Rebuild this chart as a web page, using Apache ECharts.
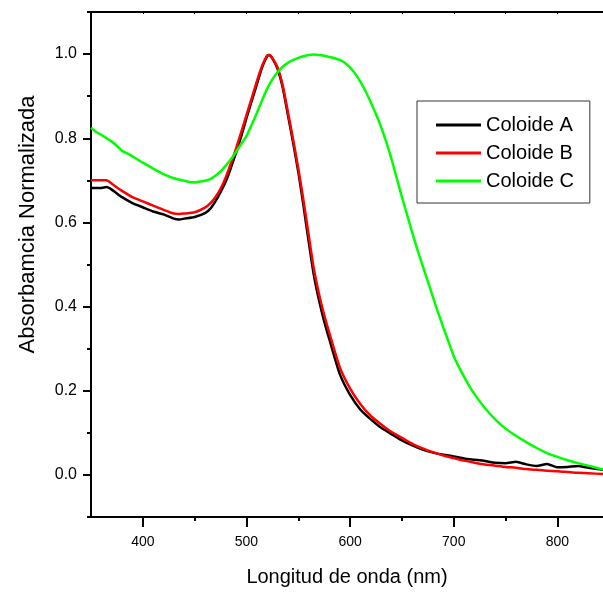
<!DOCTYPE html>
<html>
<head>
<meta charset="utf-8">
<script src="https://cdn.jsdelivr.net/npm/echarts@6/dist/echarts.min.js"></script>
<style>html,body{margin:0;padding:0;background:#fff}#c{width:603px;height:592px}</style>
</head>
<body>
<div id="c"></div>
<script>
// Wavelengths (nm) and normalized absorbance
const wlAB = [350,360,365,370,380,390,400,410,420,430,435,440,450,460,465,470,475,480,485,490,495,500,505,510,515,520,522,525,530,535,540,545,550,555,560,565,570,575,580,590,600,610,620,630,640,650,660,670,680,690,700,710,720,730,740,750,760,770,780,790,800,810,820,830,844];
const coloideA = [0.682,0.682,0.684,0.678,0.660,0.646,0.636,0.626,0.619,0.609,0.607,0.609,0.613,0.622,0.632,0.650,0.672,0.697,0.730,0.766,0.805,0.848,0.888,0.928,0.968,0.995,0.998,0.990,0.965,0.920,0.855,0.790,0.720,0.640,0.555,0.475,0.415,0.365,0.322,0.240,0.190,0.155,0.132,0.112,0.097,0.082,0.070,0.060,0.053,0.048,0.044,0.039,0.036,0.033,0.029,0.028,0.031,0.025,0.021,0.026,0.018,0.019,0.021,0.017,0.012];
const coloideB = [0.700,0.700,0.700,0.692,0.675,0.660,0.650,0.640,0.630,0.621,0.620,0.621,0.624,0.635,0.645,0.660,0.680,0.707,0.740,0.776,0.815,0.855,0.895,0.935,0.972,0.997,0.998,0.990,0.968,0.925,0.862,0.797,0.728,0.652,0.570,0.490,0.430,0.380,0.337,0.256,0.205,0.168,0.140,0.120,0.102,0.088,0.074,0.063,0.054,0.046,0.040,0.034,0.029,0.025,0.022,0.019,0.017,0.014,0.012,0.010,0.009,0.007,0.005,0.004,0.002];
const wlC = [350,355,360,365,370,375,380,385,390,400,410,420,430,440,445,450,455,460,465,470,475,480,485,490,495,500,505,510,515,520,525,530,535,540,545,550,555,560,565,570,575,580,585,590,595,600,605,610,615,620,625,630,635,640,645,650,655,660,665,670,675,680,685,690,695,700,705,710,715,720,730,740,750,760,770,780,790,800,810,820,830,844];
const coloideC = [0.825,0.815,0.808,0.800,0.792,0.782,0.770,0.764,0.757,0.742,0.728,0.715,0.705,0.699,0.696,0.695,0.697,0.699,0.703,0.711,0.721,0.735,0.750,0.768,0.787,0.805,0.832,0.860,0.890,0.918,0.940,0.957,0.970,0.979,0.986,0.991,0.995,0.998,0.999,0.998,0.996,0.993,0.990,0.986,0.979,0.968,0.953,0.934,0.911,0.885,0.857,0.826,0.790,0.750,0.705,0.660,0.618,0.575,0.535,0.497,0.460,0.422,0.385,0.350,0.316,0.282,0.256,0.233,0.211,0.192,0.159,0.132,0.110,0.093,0.078,0.064,0.052,0.043,0.035,0.028,0.022,0.013];
const seriesNames = ['Coloide A','Coloide B','Coloide C'];
const xMajor = [400,500,600,700,800];
const xMinor = [450,550,650,750,850];
const yMajor = [0,0.2,0.4,0.6,0.8,1.0];
const yMinor = [-0.1,0.1,0.3,0.5,0.7,0.9,1.1];

const zip = (xs, ys) => xs.map((x, i) => [x, ys[i]]);
const FONT = 'Liberation Sans';
const chart = echarts.init(document.getElementById('c'));
const axLine = {show: true, onZero: false, lineStyle: {color: '#000', width: 2}};
chart.setOption({
  animation: false,
  backgroundColor: '#fff',
  grid: {left: 91, right: 0, top: 12, bottom: 72},
  legend: {
    orient: 'vertical', left: 417, top: 101,
    padding: [14, 16, 12, 19],
    icon: 'rect',
    itemWidth: 45, itemHeight: 3, itemGap: 8,
    borderColor: '#333', borderWidth: 1,
    textStyle: {fontFamily: FONT, fontSize: 20, color: '#000'},
    data: seriesNames
  },
  xAxis: [
    {type: 'value', min: 350, max: 844, position: 'bottom',
     name: 'Longitud de onda (nm)', nameLocation: 'middle', nameGap: 50,
     nameTextStyle: {fontFamily: FONT, fontSize: 20, color: '#000'},
     axisLine: axLine, splitLine: {show: false},
     axisTick: {show: true, customValues: xMajor, length: 10, lineStyle: {color: '#000', width: 2}},
     axisLabel: {customValues: xMajor, fontFamily: FONT, fontSize: 14, color: '#000', margin: 18}},
    {type: 'value', min: 350, max: 844, position: 'bottom',
     axisLine: {show: false, onZero: false}, splitLine: {show: false},
     axisTick: {show: true, customValues: xMinor, length: 4, lineStyle: {color: '#000', width: 2}},
     axisLabel: {show: false}},
    {type: 'value', min: 350, max: 844, position: 'top',
     axisLine: axLine, splitLine: {show: false},
     axisTick: {show: true, inside: true, customValues: xMajor.concat(xMinor), length: 2, lineStyle: {color: '#000', width: 1}},
     axisLabel: {show: false}}
  ],
  yAxis: [
    {type: 'value', min: -0.1, max: 1.1, position: 'left',
     name: 'Absorbamcia Normalizada', nameLocation: 'middle', nameGap: 52,
     nameTextStyle: {fontFamily: FONT, fontSize: 22, color: '#000', padding: [0, 0, 0, 80]},
     axisLine: axLine, splitLine: {show: false},
     axisTick: {show: true, customValues: yMajor, length: 8, lineStyle: {color: '#000', width: 2}},
     axisLabel: {customValues: yMajor, formatter: v => v.toFixed(1), fontFamily: FONT, fontSize: 16, color: '#000', margin: 14}},
    {type: 'value', min: -0.1, max: 1.1, position: 'left',
     axisLine: {show: false, onZero: false}, splitLine: {show: false},
     axisTick: {show: true, customValues: yMinor, length: 4, lineStyle: {color: '#000', width: 2}},
     axisLabel: {show: false}}
  ],
  series: [
    {name: seriesNames[0], type: 'line', data: zip(wlAB, coloideA), symbol: 'none', smooth: 0.2,
     lineStyle: {color: '#000000', width: 2.5}, itemStyle: {color: '#000000'}},
    {name: seriesNames[1], type: 'line', data: zip(wlAB, coloideB), symbol: 'none', smooth: 0.2,
     lineStyle: {color: '#ff0000', width: 2.5}, itemStyle: {color: '#ff0000'}},
    {name: seriesNames[2], type: 'line', data: zip(wlC, coloideC), symbol: 'none', smooth: 0.2,
     lineStyle: {color: '#00ff00', width: 2.5}, itemStyle: {color: '#00ff00'}}
  ]
});
</script>
</body>
</html>
